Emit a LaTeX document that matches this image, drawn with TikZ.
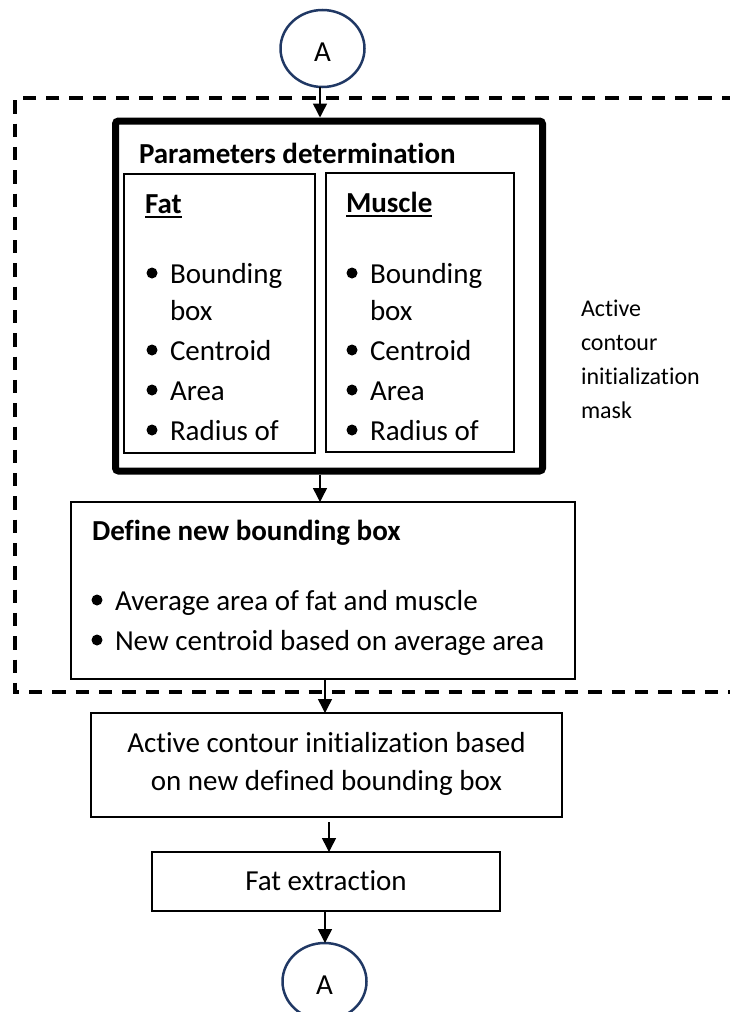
\documentclass[tikz,border=0pt]{standalone}
\usepackage{fontspec}
\setmainfont{Carlito}[Ligatures={NoCommon}]
\usetikzlibrary{arrows.meta,shapes.geometric}
\definecolor{navy}{RGB}{32,56,100}
\begin{document}
\begin{tikzpicture}[x=1pt,y=-1pt,
  every node/.style={inner sep=0pt, outer sep=0pt},
  box/.style={draw, line width=1.3pt, rectangle},
  conn/.style={draw=navy, line width=2.5pt, ellipse, minimum width=84pt, minimum height=77pt, text height=25pt, text depth=0pt, font=\fontsize{29}{35}\selectfont},
  txt/.style={anchor=base west, font=\fontsize{29}{35}\selectfont},
  ttl/.style={anchor=base west, font=\fontsize{29}{35}\selectfont\bfseries},
  ctr/.style={anchor=base, font=\fontsize{29}{35}\selectfont},
  side/.style={anchor=base west, font=\fontsize{24}{29}\selectfont},
  arr/.style={line width=1.5pt, -{Triangle[length=14pt,width=14pt]}},
  group/.style={line width=3.5pt, dash pattern=on 13.3pt off 10pt},
  bul/.style={circle, fill, minimum size=11pt},
  uline/.style={line width=2pt}
]
\fill[white] (0,0) rectangle (729,1012);
\useasboundingbox (0,0) rectangle (729,1012);

% dashed group frame (open to the right)
\draw[group] (735,98) -- (15,98) -- (15,692) -- (735,692);

% boxes
\node[box, minimum width=427pt, minimum height=350pt, line width=7pt, rounded corners=3pt] (par) at (329,296) {};
\node[box, minimum width=191pt, minimum height=279pt] (fatb) at (219.5,313.5) {};
\node[box, minimum width=188pt, minimum height=279pt] (musb) at (420,312.5) {};
\node[box, minimum width=504pt, minimum height=177pt] (def) at (323,590.5) {};
\node[box, minimum width=471pt, minimum height=104pt] (act) at (326.5,765) {};
\node[box, minimum width=348pt, minimum height=59pt] (fx) at (326,881.5) {};
\node[conn] (A1) at (322.5,48.5) {A};
\node[conn] (A2) at (324.5,981.5) {A};

% parameters determination
\node[ttl] (tpar) at (139,163) {Parameters determination};
\node[ttl] (tfat) at (145,213) {Fat};
\node[ttl] (tmus) at (346,212) {Muscle};
\draw[uline] ([yshift=-4pt]tfat.base west) -- ([yshift=-4pt]tfat.base east);
\draw[uline] ([yshift=-4pt]tmus.base west) -- ([yshift=-4pt]tmus.base east);

% fat list
\node[bul] (fb1) at (152,273) {};
\node[bul] (fb2) at (152,350) {};
\node[bul] (fb3) at (152,390) {};
\node[bul] (fb4) at (152,430) {};
\node[txt] (ft1) at (170,283) {Bounding};
\node[txt] (ft1b) at (170,320) {box};
\node[txt] (ft2) at (170,360) {Centroid};
\node[txt] (ft3) at (170,400) {Area};
\node[txt] (ft4) at (170,440) {Radius of};

% muscle list
\node[bul] (mb1) at (352,273) {};
\node[bul] (mb2) at (352,350) {};
\node[bul] (mb3) at (352,390) {};
\node[bul] (mb4) at (352,430) {};
\node[txt] (mt1) at (370,283) {Bounding};
\node[txt] (mt1b) at (370,320) {box};
\node[txt] (mt2) at (370,360) {Centroid};
\node[txt] (mt3) at (370,400) {Area};
\node[txt] (mt4) at (370,440) {Radius of};

% define new bounding box
\node[ttl] (tdef) at (92,540) {Define new bounding box};
\node[bul] (db1) at (97,600) {};
\node[bul] (db2) at (97,640) {};
\node[txt] (dt1) at (115,610) {Average area of fat and muscle};
\node[txt] (dt2) at (115,650) {New centroid based on average area};

% active contour box
\node[ctr] (at1) at (326.5,752) {Active contour initialization based};
\node[ctr] (at2) at (326.5,790) {on new defined bounding box};

% fat extraction
\node[ctr] (fxt) at (326,890) {Fat extraction};

% side label
\node[side] (s1) at (581,316) {Active};
\node[side] (s2) at (581,350) {contour};
\node[side] (s3) at (581,384) {initialization};
\node[side] (s4) at (581,418) {mask};

% connectors
\coordinate (c1) at (320,0);
\coordinate (c2) at (325,0);
\coordinate (c3) at (329,0);
\draw[arr, shorten >=3.5pt] (A1.south -| c1) -- (par.north -| c1);
\draw[arr, shorten <=3.5pt] (par.south -| c1) -- (def.north -| c1);
\draw[arr] (def.south -| c2) -- (act.north -| c2);
\draw[arr, shorten <=5pt] (act.south -| c3) -- (fx.north -| c3);
\draw[arr] (fx.south -| c2) -- (A2.north -| c2);
\end{tikzpicture}
\end{document}
